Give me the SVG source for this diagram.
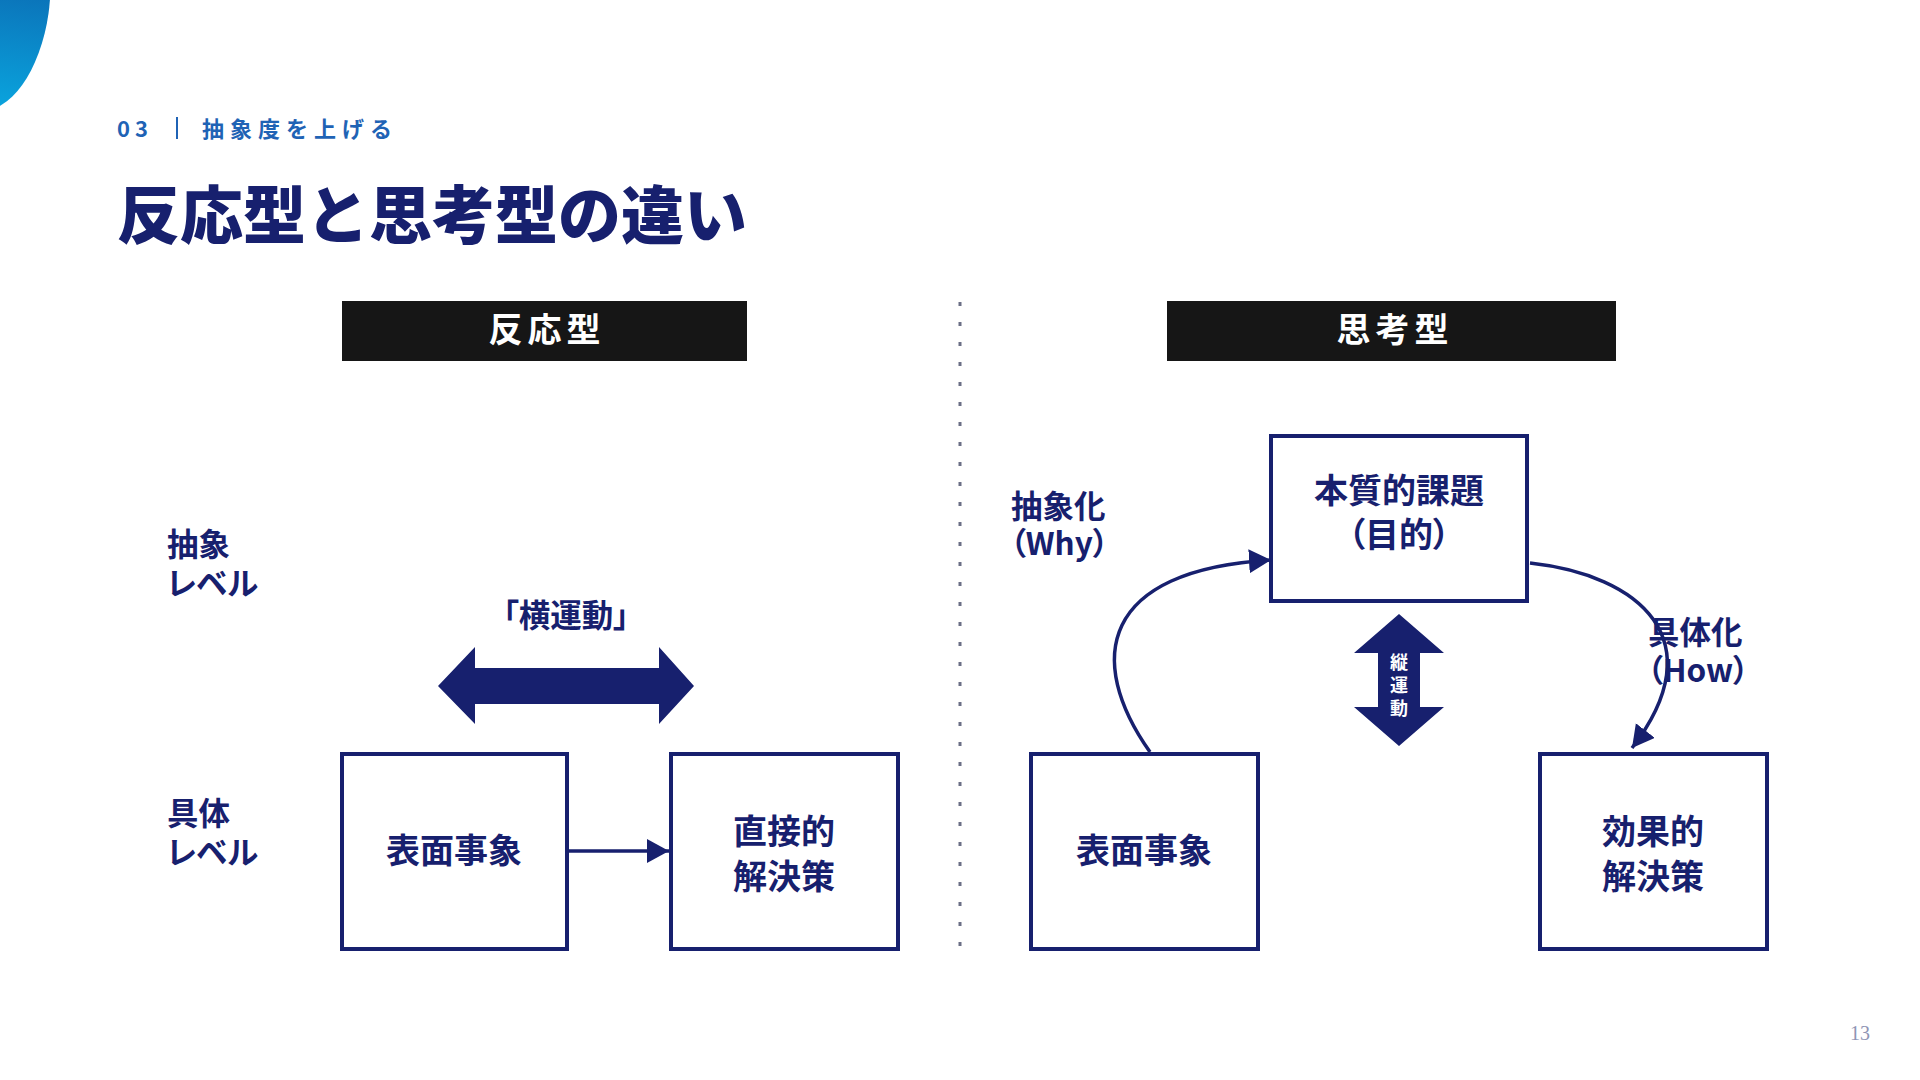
<svg xmlns="http://www.w3.org/2000/svg" width="1920" height="1080" viewBox="0 0 1920 1080">
<style>
text { font-family: "Noto Sans CJK JP", "Noto Sans", sans-serif; font-weight: 700; }
.navy { fill: #17206e; }
.box { fill: #ffffff; stroke: #17206e; stroke-width: 4; }
.lbl { font-size: 31.5px; fill: #17206e; font-feature-settings: "palt"; }
.node { font-size: 34px; fill: #17206e; text-anchor: middle; font-feature-settings: "palt"; }
.hdr { fill: #161616; }
.hdrt { font-size: 34px; fill: #ffffff; text-anchor: middle; letter-spacing: 5px; }
.conn { fill: none; stroke: #17206e; stroke-width: 3.5; }
</style>
<defs>
<linearGradient id="blob" x1="0" y1="0" x2="0" y2="1">
<stop offset="0" stop-color="#0b4f9e"/>
<stop offset="1" stop-color="#0aa6df"/>
</linearGradient>
<marker id="ah" markerUnits="userSpaceOnUse" markerWidth="24" markerHeight="26" refX="22" refY="12" orient="auto">
<path d="M0,0 L22,12 L0,24 Z" fill="#17206e"/>
</marker>
</defs>
<rect width="1920" height="1080" fill="#ffffff"/>
<ellipse cx="-6" cy="6" rx="55" ry="105" fill="url(#blob)" transform="rotate(8 -6 6)"/>

<g id="header">
<text x="117" y="137" font-size="22" fill="#1f63b5" letter-spacing="5">03</text>
<rect x="176" y="117" width="2" height="22" fill="#1f63b5"/>
<text x="202" y="137" font-size="22" fill="#1f63b5" letter-spacing="6">抽象度を上げる</text>
<text x="117" y="238" font-size="63" class="navy" style="font-weight:900">反応型と思考型の違い</text>
</g>

<g id="divider">
<line x1="960" y1="302" x2="960" y2="950" stroke="#6b6f85" stroke-width="3" stroke-dasharray="4 16"/>
</g>

<g id="header-reactive">
<rect x="342" y="301" width="405" height="60" class="hdr"/>
<text x="547" y="342" class="hdrt">反応型</text>
</g>
<g id="header-thinking">
<rect x="1167" y="301" width="449" height="60" class="hdr"/>
<text x="1395" y="342" class="hdrt">思考型</text>
</g>

<g id="level-labels">
<text class="lbl" x="167" y="556">抽象</text>
<text class="lbl" x="167" y="595">レベル</text>
<text class="lbl" x="167" y="825">具体</text>
<text class="lbl" x="167" y="864">レベル</text>
</g>

<g id="yoko-label">
<text class="lbl" x="566" y="627" text-anchor="middle">「横運動」</text>
</g>
<g id="yoko-arrow">
<path d="M438,686 L475,647 L475,668 L659,668 L659,647 L694,686 L659,724 L659,704 L475,704 L475,724 Z" fill="#17206e"/>
</g>

<g id="node-left-surface">
<rect x="342" y="754" width="225" height="195" class="box"/>
<text class="node" x="454" y="863">表面事象</text>
</g>
<g id="node-left-direct">
<rect x="671" y="754" width="227" height="195" class="box"/>
<text class="node" x="784" y="844">直接的</text>
<text class="node" x="784" y="889">解決策</text>
</g>

<g id="node-essential">
<rect x="1271" y="436" width="256" height="165" class="box"/>
<text class="node" x="1399" y="503">本質的課題</text>
<text class="node" x="1399" y="547">（目的）</text>
</g>
<g id="node-right-surface">
<rect x="1031" y="754" width="227" height="195" class="box"/>
<text class="node" x="1144" y="863">表面事象</text>
</g>
<g id="node-effective">
<rect x="1540" y="754" width="227" height="195" class="box"/>
<text class="node" x="1653" y="844">効果的</text>
<text class="node" x="1653" y="889">解決策</text>
</g>

<g id="tate-arrow">
<path d="M1399,614 L1444,653 L1420,653 L1420,707 L1444,707 L1399,746 L1354,707 L1378,707 L1378,653 L1354,653 Z" fill="#17206e"/>
<text x="1399" y="669" font-size="18" fill="#ffffff" text-anchor="middle">縦</text>
<text x="1399" y="692" font-size="18" fill="#ffffff" text-anchor="middle">運</text>
<text x="1399" y="715" font-size="18" fill="#ffffff" text-anchor="middle">動</text>
</g>

<g id="curve-labels">
<text class="lbl" x="1011" y="518">抽象化</text>
<text class="lbl" x="1010" y="555">（Why）</text>
<text class="lbl" x="1648" y="644">具体化</text>
<text class="lbl" x="1647" y="682">（How）</text>
</g>

<g id="connectors">
<line x1="567" y1="851" x2="669" y2="851" class="conn" marker-end="url(#ah)"/>
<path d="M1150,752 C1085,660 1100,570 1271,560" class="conn" marker-end="url(#ah)"/>
<path d="M1530,563 C1640,575 1715,640 1632,748" class="conn" marker-end="url(#ah)"/>
</g>

<g id="page-number">
<text x="1850" y="1040" font-size="20" fill="#8f95b5" style="font-family:'Liberation Serif', serif; font-weight:400">13</text>
</g>
</svg>
